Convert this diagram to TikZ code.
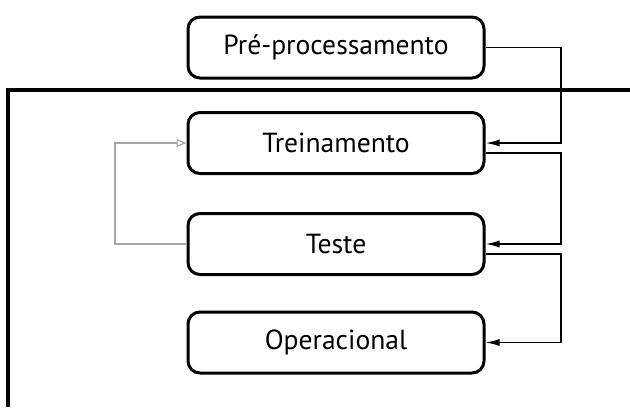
\documentclass[tikz,border=0pt]{standalone}
\usepackage{fontspec}
\setmainfont{PT Sans}
\usetikzlibrary{arrows.meta}
\begin{document}
\begin{tikzpicture}[x=0.5pt,y=-0.5pt,
  stagebox/.style={draw=black, line width=1.5pt, rounded corners=6pt, minimum width=148pt, minimum height=30.5pt, inner sep=0pt, font=\fontsize{13.8}{16}\selectfont, fill=white},
  flow/.style={draw=black, line width=0.8pt, -{Latex[length=7pt,width=3.5pt]}},
  loop/.style={draw=gray!70, line width=0.6pt, -{Triangle[open,length=5pt,width=4pt]}},
  frame/.style={draw=black, line width=2.2pt}]
\useasboundingbox (0,0) rectangle (630,407);
\node[stagebox] (pre) at (336,47.5) {Pré-processamento};
\node[stagebox] (tre) at (336,143) {Treinamento};
\node[stagebox] (tes) at (336,244) {Teste};
\node[stagebox] (ope) at (336,342.5) {Operacional};
\coordinate (fa) at (8,407);
\coordinate (fb) at (8,90);
\coordinate (fc) at (632,90);
\draw[frame] (fa) -- (fb) -- (fc);
\draw[flow] (pre.east) -- (561,47.5) |- (tre.east);
\draw[flow] ([yshift=-5pt]tre.east) -- (561,153) |- (tes.east);
\draw[flow] ([yshift=-5pt]tes.east) -- (561,254) |- (ope.east);
\draw[loop] (tes.west) -- (115,244) |- (tre.west);
\end{tikzpicture}
\end{document}
